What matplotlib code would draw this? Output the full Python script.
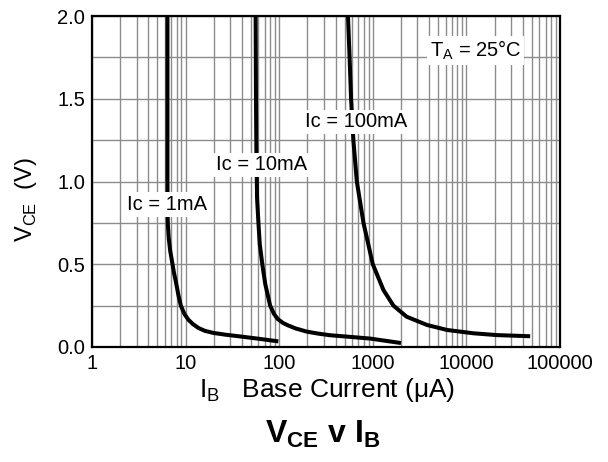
import numpy as np
import matplotlib.pyplot as plt
from matplotlib.ticker import LogLocator, NullFormatter

plt.rcParams["font.family"] = ["Liberation Sans", "DejaVu Sans"]
plt.rcParams["mathtext.fontset"] = "custom"
plt.rcParams["mathtext.rm"] = "Liberation Sans"
plt.rcParams["mathtext.bf"] = "Liberation Sans:bold"

# base current (uA) and VCE (V), one pair of lists per curve
ib_1ma = [6.4, 6.4, 6.4, 6.45, 6.6, 6.85, 7.2, 7.5, 7.9, 8.4, 8.9, 9.7, 10.7, 12, 13.7, 16, 19.8,
          27, 38, 60, 98]
vce_1ma = [2.0, 1.5, 1.0, 0.75, 0.66, 0.58, 0.51, 0.45, 0.39, 0.31, 0.25, 0.2, 0.165, 0.138,
           0.115, 0.098, 0.085, 0.074, 0.064, 0.05, 0.034]

ib_10ma = [56, 56.5, 57, 58, 60, 62, 66, 71, 80, 88, 96, 110, 125, 150, 197, 260, 350, 550, 935, 2000]
vce_10ma = [2.0, 1.5, 1.2, 0.9, 0.75, 0.62, 0.5, 0.38, 0.25, 0.2, 0.17, 0.145, 0.13, 0.112,
            0.093, 0.081, 0.071, 0.062, 0.051, 0.024]

ib_100ma = [543, 565, 586, 620, 675, 795, 1000, 1300, 1660, 2300, 3800, 6200, 11800, 21000, 48000]
vce_100ma = [2.0, 1.75, 1.5, 1.25, 1.0, 0.75, 0.5, 0.344, 0.25, 0.183, 0.133, 0.103, 0.083,
             0.072, 0.065]

labels = ["Ic = 1mA", "Ic = 10mA", "Ic = 100mA"]
label_pos = [(6.33, 0.86), (65, 1.10), (665, 1.36)]

fig = plt.figure(figsize=(6.08, 4.62), dpi=100)
ax = fig.add_axes([92 / 608, 1 - 347 / 462, 468 / 608, 331 / 462])

for x, y in [(ib_1ma, vce_1ma), (ib_10ma, vce_10ma), (ib_100ma, vce_100ma)]:
    ax.plot(x, y, color="black", linewidth=2.9, solid_capstyle="butt", solid_joinstyle="round")

ax.set_xscale("log")
ax.set_xlim(1, 100000)
ax.set_ylim(0, 2.0)
ax.set_xticks([1, 10, 100, 1000, 10000, 100000])
ax.set_xticklabels(["1", "10", "100", "1000", "10000", "100000"])
ax.set_yticks([0, 0.5, 1.0, 1.5, 2.0])
ax.set_yticklabels(["0.0", "0.5", "1.0", "1.5", "2.0"])
ax.set_yticks(np.arange(0, 2.01, 0.25), minor=True)
ax.xaxis.set_minor_locator(LogLocator(base=10, subs=np.arange(2, 10)))
ax.xaxis.set_minor_formatter(NullFormatter())
ax.grid(True, which="both", color="#8c8c8c", linewidth=1)
ax.set_axisbelow(True)
ax.tick_params(which="both", length=0, labelsize=14.5, pad=5)
for s in ax.spines.values():
    s.set_linewidth(1.6)

for txt, (x, y) in zip(labels, label_pos):
    ax.text(x, y, txt, fontsize=14.5, ha="center", va="center",
            bbox=dict(facecolor="white", edgecolor="none", pad=2))
ax.text(12600, 1.79, r"T$_\mathregular{A}$ = 25°C", fontsize=14.5, ha="center", va="center",
        bbox=dict(facecolor="white", edgecolor="none", pad=2))

fig.text(26 / 608, 1 - 200 / 462, r"V$_\mathregular{CE}$  (V)", rotation=90,
         fontsize=17, ha="center", va="center")
fig.text(327 / 608, 1 - 390 / 462, r"I$_\mathregular{B}$   Base Current (μA)",
         fontsize=19, ha="center", va="center")
fig.text(323 / 608, 1 - 434 / 462, r"$\mathbf{V_{CE}}$ $\mathbf{v}$ $\mathbf{I_{B}}$",
         fontsize=23, ha="center", va="center")

fig.savefig("out.png", dpi=100)
